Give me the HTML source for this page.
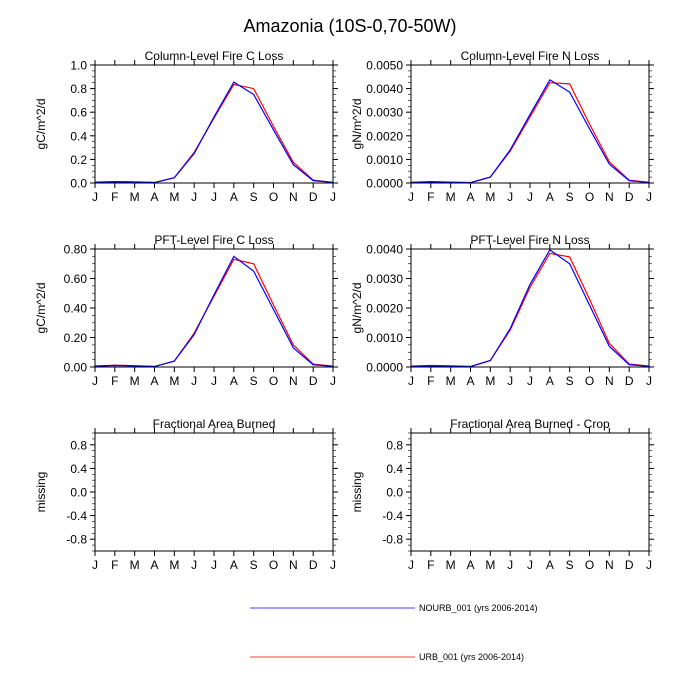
<!DOCTYPE html>
<html><head><meta charset="utf-8"><style>
html,body{margin:0;padding:0;background:#fff;}
svg{display:block;font-family:"Liberation Sans",sans-serif;}
</style></head><body>
<svg id="chart" width="700" height="700" viewBox="0 0 700 700">
<text x="350" y="32" text-anchor="middle" font-size="18">Amazonia (10S-0,70-50W)</text>
<g>
<line x1="250" y1="608" x2="415" y2="608" stroke="#0000ff" stroke-width="0.8"/>
<text x="419" y="611" font-size="9">NOURB_001 (yrs 2006-2014)</text>
<line x1="250" y1="657" x2="415" y2="657" stroke="#ff0000" stroke-width="0.8"/>
<text x="419" y="660" font-size="9">URB_001 (yrs 2006-2014)</text>
</g>
</svg>
<script>
const months = ["J","F","M","A","M","J","J","A","S","O","N","D","J"];
const colCBlue = [0.005,0.01,0.008,0.003,0.045,0.25,0.56,0.855,0.75,0.45,0.155,0.02,0.005];
const colCRed  = [0.008,0.012,0.01,0.005,0.045,0.26,0.55,0.835,0.80,0.48,0.175,0.025,0.005];
const colNBlue = [0.00002,0.00005,0.00003,0.00001,0.00025,0.0014,0.0029,0.00437,0.00385,0.0023,0.0008,0.0001,0.00002];
const colNRed  = [0.00003,0.00006,0.00004,0.00002,0.00025,0.00135,0.0028,0.00425,0.0042,0.0025,0.0009,0.00012,0.00003];
const pftCBlue = [0.005,0.01,0.007,0.003,0.04,0.22,0.49,0.75,0.65,0.39,0.13,0.015,0.005];
const pftCRed  = [0.007,0.012,0.009,0.004,0.04,0.23,0.48,0.73,0.70,0.42,0.15,0.02,0.005];
const pftNBlue = [0.00002,0.00004,0.00003,0.00001,0.00022,0.0013,0.0028,0.00397,0.0035,0.0021,0.0007,0.00008,0.00002];
const pftNRed  = [0.00003,0.00005,0.00004,0.00002,0.00022,0.00125,0.0027,0.00385,0.00373,0.0023,0.0008,0.0001,0.00003];
const ticksC1 = ["0.0","0.2","0.4","0.6","0.8","1.0"];
const ticksN1 = ["0.0000","0.0010","0.0020","0.0030","0.0040","0.0050"];
const ticksC2 = ["0.00","0.20","0.40","0.60","0.80"];
const ticksN2 = ["0.0000","0.0010","0.0020","0.0030","0.0040"];
const ticksM  = ["-0.8","-0.4","0.0","0.4","0.8"];

const NS="http://www.w3.org/2000/svg";
const svg=document.getElementById('chart');
function mk(tag,attrs,parent){const e=document.createElementNS(NS,tag);for(const k in attrs)e.setAttribute(k,attrs[k]);(parent||svg).appendChild(e);return e;}

function panel(o){
  const g=mk('g',{});
  
  
  const x0=o.x,x1=o.x+238,y0=o.y,y1=o.y+118;
  const xs=i=>x0+(x1-x0)*i/12;
  const ys=v=>y1-(y1-y0)*(v-o.min)/(o.max-o.min);
  // title
  const t=mk('text',{x:(x0+x1)/2,y:y0-5,'text-anchor':'middle','font-size':12},g);t.textContent=o.title;
  
  
  // y label
  const yl=mk('text',{x:0,y:0,'text-anchor':'middle','font-size':12,transform:`translate(${o.x-50},${(y0+y1)/2}) rotate(-90)`},g);yl.textContent=o.ylabel;
  
  
  // x ticks
  months.forEach((m,i)=>{
    const x=xs(i);
    mk('line',{x1:x,x2:x,y1:y1,y2:y1+5,stroke:'#000','stroke-width':1},g);
    mk('line',{x1:x,x2:x,y1:y0,y2:y0-5,stroke:'#000','stroke-width':1},g);
    const l=mk('text',{x:x,y:y1+18,'text-anchor':'middle','font-size':12},g);l.textContent=m;
    
    
  });
  // minor y ticks
  for(let v=o.min;v<=o.max+1e-12;v+=o.minor){
    const y=ys(v);
    mk('line',{x1:x0,x2:x0-3,y1:y,y2:y,stroke:'#000','stroke-width':0.6},g);
    mk('line',{x1:x1,x2:x1+3,y1:y,y2:y,stroke:'#000','stroke-width':0.6},g);
  }
  o.ticks.forEach(s=>{
    const y=ys(parseFloat(s));
    mk('line',{x1:x0,x2:x0-5,y1:y,y2:y,stroke:'#000','stroke-width':1},g);
    mk('line',{x1:x1,x2:x1+5,y1:y,y2:y,stroke:'#000','stroke-width':1},g);
    const l=mk('text',{x:x0-8,y:y+4.5,'text-anchor':'end','font-size':12},g);l.textContent=s;
    
    
  });
  // series
  (o.series||[]).forEach(s=>{
    const p=mk('polyline',{points:s.d.map((v,i)=>xs(i)+','+ys(v)).join(' '),fill:'none',stroke:s.c,'stroke-width':1.2},g);
    
    
  });
  const r=mk('rect',{x:x0,y:y0,width:x1-x0,height:y1-y0,fill:'none',stroke:'#000','stroke-width':1},g);
  
  
}
panel({name:'panel-column-c',x:95,y:65,title:'Column-Level Fire C Loss',ylabel:'gC/m^2/d',min:0,max:1,minor:0.05,ticks:ticksC1,
  series:[{d:colCRed,c:'#ff0000',n:'line-urb-colc'},{d:colCBlue,c:'#0000ff',n:'line-nourb-colc'}]});
panel({name:'panel-column-n',x:411,y:65,title:'Column-Level Fire N Loss',ylabel:'gN/m^2/d',min:0,max:0.005,minor:0.00025,ticks:ticksN1,
  series:[{d:colNRed,c:'#ff0000',n:'line-urb-coln'},{d:colNBlue,c:'#0000ff',n:'line-nourb-coln'}]});
panel({name:'panel-pft-c',x:95,y:249,title:'PFT-Level Fire C Loss',ylabel:'gC/m^2/d',min:0,max:0.8,minor:0.05,ticks:ticksC2,
  series:[{d:pftCRed,c:'#ff0000',n:'line-urb-pftc'},{d:pftCBlue,c:'#0000ff',n:'line-nourb-pftc'}]});
panel({name:'panel-pft-n',x:411,y:249,title:'PFT-Level Fire N Loss',ylabel:'gN/m^2/d',min:0,max:0.004,minor:0.00025,ticks:ticksN2,
  series:[{d:pftNRed,c:'#ff0000',n:'line-urb-pftn'},{d:pftNBlue,c:'#0000ff',n:'line-nourb-pftn'}]});
panel({name:'panel-area-burned',x:95,y:433,title:'Fractional Area Burned',ylabel:'missing',min:-1,max:1,minor:0.1,ticks:ticksM});
panel({name:'panel-area-burned-crop',x:411,y:433,title:'Fractional Area Burned - Crop',ylabel:'missing',min:-1,max:1,minor:0.1,ticks:ticksM});
</script>
</body></html>
